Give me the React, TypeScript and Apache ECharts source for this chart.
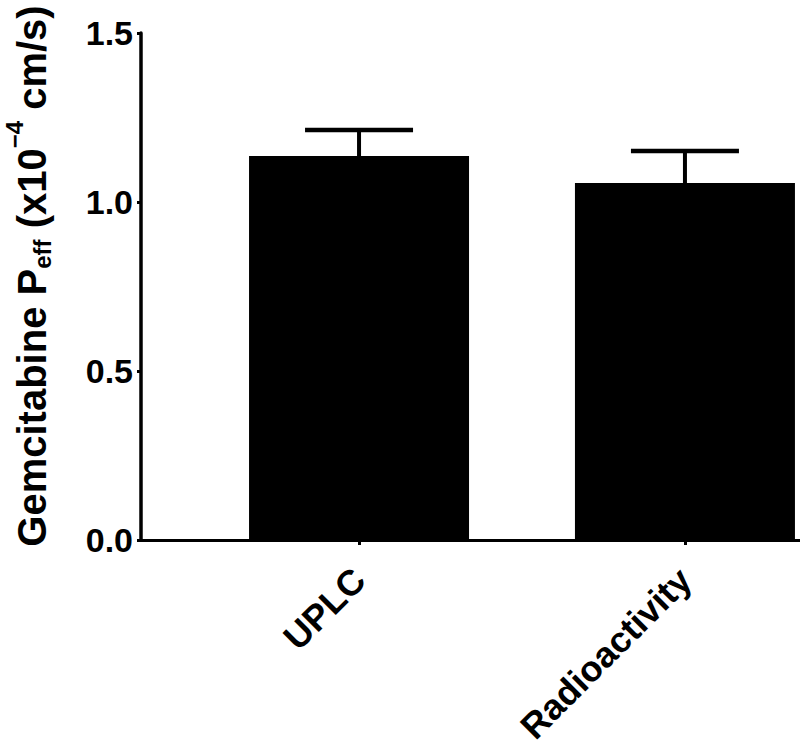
import React, { useEffect, useRef } from "react";
import * as echarts from "echarts";

const categories = ["UPLC", "Radioactivity"];
const categoryPositions = [0, 1];
const meanValues = [1.136, 1.056];
const upperErrors = [1.213, 1.151];
const yTickLabels = ["0.0", "0.5", "1.0", "1.5"];

const FONT = "'Liberation Sans', Arial, sans-serif";

export default function App() {
  const ref = useRef<HTMLDivElement>(null);

  useEffect(() => {
    if (!ref.current) return;
    const chart = echarts.init(ref.current, null, { renderer: "svg" });

    const barData = categoryPositions.map((x, i) => [x, meanValues[i]]);
    const errData = categoryPositions.map((x, i) => [x, meanValues[i], upperErrors[i]]);

    chart.setOption({
      animation: false,
      backgroundColor: "#ffffff",
      grid: { left: 141, right: 0, top: 33, bottom: 208, containLabel: false },
      xAxis: {
        type: "value",
        min: -0.669,
        max: 1.353,
        splitLine: { show: false },
        axisLine: { show: true, onZero: false, lineStyle: { color: "#000", width: 3 } },
        axisTick: {
          show: true,
          customValues: categoryPositions,
          length: 5,
          lineStyle: { color: "#000", width: 3 },
        },
        axisLabel: {
          show: true,
          customValues: categoryPositions,
          rotate: 45,
          margin: 34,
          color: "#000",
          fontSize: 36,
          fontWeight: "bold",
          fontFamily: FONT,
          formatter: (v: number) => categories[Math.round(v)] ?? "",
        },
      },
      yAxis: {
        type: "value",
        min: 0,
        max: 1.5,
        interval: 0.5,
        splitLine: { show: false },
        axisLine: { show: true, onZero: false, lineStyle: { color: "#000", width: 3.5 } },
        axisTick: { show: true, length: 4, lineStyle: { color: "#000", width: 3 } },
        axisLabel: {
          color: "#000",
          fontSize: 34,
          fontWeight: "bold",
          fontFamily: FONT,
          margin: 8,
          formatter: (v: number) => yTickLabels[Math.round(v / 0.5)] ?? "",
        },
      },
      graphic: [
        {
          type: "text",
          x: 32,
          y: 276,
          rotation: Math.PI / 2,
          style: {
            text: "{m|Gemcitabine P}{sub|eff}{m| (x10}{sup|\u22124}{m| cm/s)}",
            align: "center",
            verticalAlign: "middle",
            fill: "#000",
            rich: {
              m: {
                fontSize: 40,
                fontWeight: "bold",
                fontFamily: FONT,
                lineHeight: 60,
                verticalAlign: "middle",
                fill: "#000",
              },
              sub: {
                fontSize: 24,
                fontWeight: "bold",
                fontFamily: FONT,
                verticalAlign: "bottom",
                padding: [0, 0, 8, 0],
                fill: "#000",
              },
              sup: {
                fontSize: 24,
                fontWeight: "bold",
                fontFamily: FONT,
                verticalAlign: "top",
                fill: "#000",
              },
            },
          },
        },
      ],
      series: [
        {
          type: "bar",
          data: barData,
          barWidth: 220,
          itemStyle: { color: "#000" },
          z: 2,
        },
        {
          type: "custom",
          data: errData,
          z: 3,
          renderItem: (params: any, api: any) => {
            const x = api.value(0);
            const lo = api.value(1);
            const hi = api.value(2);
            const p0 = api.coord([x, lo]);
            const p1 = api.coord([x, hi]);
            const half = 54;
            return {
              type: "group",
              children: [
                {
                  type: "line",
                  shape: { x1: p0[0], y1: p0[1], x2: p1[0], y2: p1[1] },
                  style: { stroke: "#000", lineWidth: 4 },
                },
                {
                  type: "line",
                  shape: { x1: p1[0] - half, y1: p1[1], x2: p1[0] + half, y2: p1[1] },
                  style: { stroke: "#000", lineWidth: 4.5 },
                },
              ],
            };
          },
        },
      ],
    });

    return () => chart.dispose();
  }, []);

  return (
    <div
      ref={ref}
      style={{ position: "absolute", left: 0, top: 0, width: 800, height: 748 }}
    />
  );
}
